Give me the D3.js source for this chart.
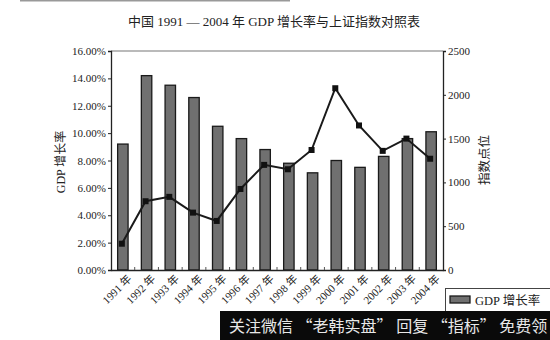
<!DOCTYPE html>
<html>
<head>
<meta charset="utf-8">
<script src="https://cdn.jsdelivr.net/npm/d3@7"></script>
<style>
  body { margin: 0; background: #fff; }
  text { font-family: "Liberation Serif", "Noto Sans CJK SC", serif; fill: #222; }
</style>
</head>
<body>
<script>
var years = ["1991", "1992", "1993", "1994", "1995", "1996", "1997",
             "1998", "1999", "2000", "2001", "2002", "2003", "2004"];
var gdp = [9.2, 14.2, 13.5, 12.6, 10.5, 9.6, 8.8, 7.8, 7.1, 8.0, 7.5, 8.3, 9.6, 10.1];
var index = [300, 785, 835, 655, 560, 925, 1200, 1150, 1370, 2075, 1650, 1360, 1500, 1270];
var leftTicks = [0, 2, 4, 6, 8, 10, 12, 14, 16];
var rightTicks = [0, 500, 1000, 1500, 2000, 2500];

var W = 550, H = 340;
// plot box (note: "top" is taken by window.top, so use other names)
var pLeft = 111, pRight = 443, pTop = 51, pBottom = 270;

var svg = d3.select("body").append("svg").attr("width", W).attr("height", H);

// faint scan line at the very top
svg.append("line").attr("x1", 20).attr("x2", 290).attr("y1", 0.5).attr("y2", 0.5)
  .attr("stroke", "#999").attr("stroke-width", 2);

var x = d3.scaleBand().domain(years).range([pLeft, pRight]).paddingInner(0.56).paddingOuter(0.28);
var xb = d3.scaleBand().domain(years).range([pLeft, pRight]);
var yL = d3.scaleLinear().domain([0, 16]).range([pBottom, pTop]);
var yR = d3.scaleLinear().domain([0, 2500]).range([pBottom, pTop]);

svg.append("text").attr("x", 274).attr("y", 26).attr("text-anchor", "middle")
  .style("font-size", "13px").text("中国 1991 — 2004 年 GDP 增长率与上证指数对照表");

// frame top
svg.append("line").attr("x1", pLeft).attr("x2", pRight).attr("y1", pTop).attr("y2", pTop)
  .attr("stroke", "#777").attr("stroke-width", 1.2);

// bars
svg.selectAll("rect.bar").data(gdp).enter().append("rect")
  .attr("class", "bar")
  .attr("x", function (d, i) { return x(years[i]); })
  .attr("width", x.bandwidth())
  .attr("y", function (d) { return yL(d); })
  .attr("height", function (d) { return pBottom - yL(d); })
  .attr("fill", "#707070").attr("stroke", "#1a1a1a").attr("stroke-width", 1.3);

// line series
var line = d3.line()
  .x(function (d, i) { return xb(years[i]) + xb.bandwidth() / 2 - 1; })
  .y(function (d) { return yR(d); });
svg.append("path").datum(index).attr("d", line)
  .attr("fill", "none").attr("stroke", "#1a1a1a").attr("stroke-width", 2);
svg.selectAll("rect.mk").data(index).enter().append("rect")
  .attr("class", "mk")
  .attr("x", function (d, i) { return xb(years[i]) + xb.bandwidth() / 2 - 4; })
  .attr("y", function (d) { return yR(d) - 3; })
  .attr("width", 6).attr("height", 6).attr("fill", "#111");

// axes
var axL = svg.append("g").attr("transform", "translate(" + pLeft + ",0)")
  .call(d3.axisLeft(yL).tickValues(leftTicks).tickSize(3).tickPadding(2)
    .tickFormat(function (d) { return d.toFixed(2) + "%"; }));
var axR = svg.append("g").attr("transform", "translate(" + pRight + ",0)")
  .call(d3.axisRight(yR).tickValues(rightTicks).tickSize(3).tickPadding(2).tickFormat(d3.format("d")));
var axB = svg.append("g").attr("transform", "translate(0," + pBottom + ")")
  .call(d3.axisBottom(xb).tickSize(0).tickFormat(function (d) { return d + " 年"; }));

[axL, axR, axB].forEach(function (g) {
  g.select(".domain").attr("stroke", "#222").attr("stroke-width", 1.3);
  g.selectAll(".tick line").attr("stroke", "#222");
  g.selectAll("text").style("font-size", "11px").attr("fill", "#222")
    .style("font-family", "'Liberation Serif', 'Noto Sans CJK SC', serif");
});
axB.selectAll(".tick text")
  .attr("text-anchor", "end")
  .attr("transform", "translate(4,4) rotate(-45)")
  .attr("dy", "0.7em").attr("y", 0).attr("x", 0);

// small inner ticks between categories
svg.selectAll("line.sep").data(years.slice(1)).enter().append("line")
  .attr("class", "sep")
  .attr("x1", function (d) { return xb(d); }).attr("x2", function (d) { return xb(d); })
  .attr("y1", pBottom).attr("y2", pBottom - 3).attr("stroke", "#555");

svg.append("text").attr("transform", "translate(65,162) rotate(-90)")
  .attr("text-anchor", "middle").style("font-size", "12px").text("GDP 增长率");
svg.append("text").attr("transform", "translate(489,160) rotate(-90)")
  .attr("text-anchor", "middle").style("font-size", "12.5px").text("指数点位");

// legend
svg.append("rect").attr("x", 445.5).attr("y", 288.5).attr("width", 110).attr("height", 30)
  .attr("fill", "#fff").attr("stroke", "#444");
svg.append("rect").attr("x", 450).attr("y", 296).attr("width", 20).attr("height", 7)
  .attr("fill", "#707070").attr("stroke", "#1a1a1a").attr("stroke-width", 1.3);
svg.append("text").attr("x", 475).attr("y", 304.5).style("font-size", "12.5px").text("GDP 增长率");

// watermark banner
svg.append("rect").attr("x", 220).attr("y", 311).attr("width", 330).attr("height", 29).attr("fill", "#0a0a0a");
svg.append("text").attr("x", 229).attr("y", 332)
  .style("font-family", "'Noto Sans CJK SC', sans-serif").style("font-size", "16px")
  .style("fill", "#e8e8e8")
  .text("关注微信 “老韩实盘” 回复 “指标” 免费领");
</script>
</body>
</html>
